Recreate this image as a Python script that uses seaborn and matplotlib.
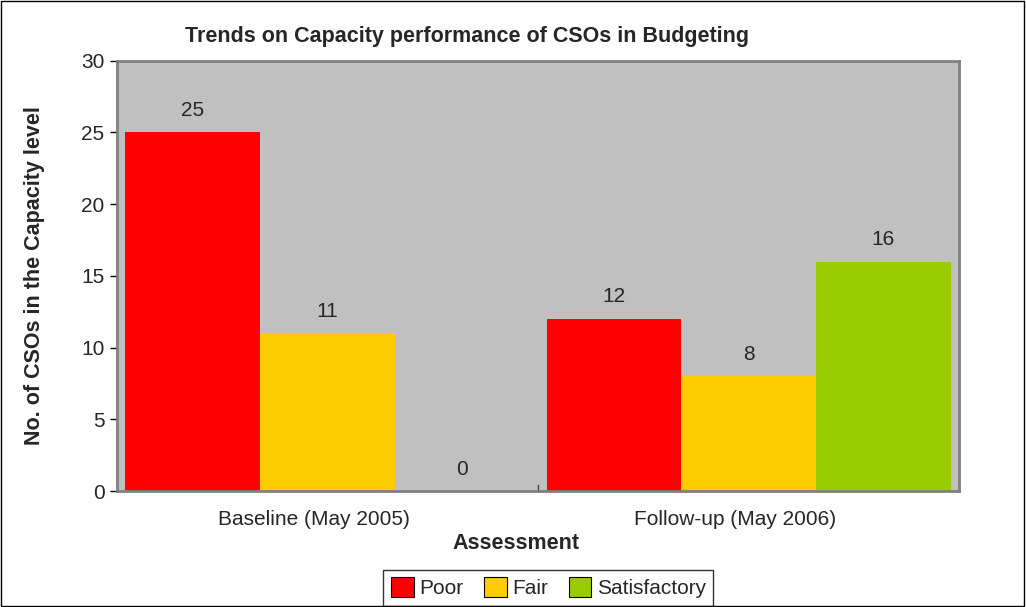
import numpy as np
import pandas as pd
import seaborn as sns
import matplotlib.pyplot as plt
import matplotlib.transforms as mtransforms
from matplotlib.patches import Rectangle

# data
assessments = ["Baseline (May 2005)", "Follow-up (May 2006)"]
levels = ["Poor", "Fair", "Satisfactory"]
poor = [25, 12]
fair = [11, 8]
satisfactory = [0, 16]
colors = ["#FF0000", "#FFCC00", "#99CC00"]

df = pd.DataFrame({
    "Assessment": assessments * 3,
    "Level": ["Poor"] * 2 + ["Fair"] * 2 + ["Satisfactory"] * 2,
    "Count": poor + fair + satisfactory,
})

sns.set_style("white")
plt.rcParams['font.family'] = ['Liberation Sans', 'DejaVu Sans']

fig = plt.figure(figsize=(10.26, 6.07), dpi=100)
ax = fig.add_axes([0.114, 0.191, 0.821, 0.709])
ax.set_facecolor("#C0C0C0")

sns.barplot(data=df, x="Assessment", y="Count", hue="Level", order=assessments,
            hue_order=levels, palette=colors, width=0.96, saturation=1,
            linewidth=0, ax=ax)

for cont in ax.containers:
    ax.bar_label(cont, fmt="%d", padding=9, fontsize=15)

ax.set_ylim(0, 30)
ax.set_xlim(-0.5, 1.5)
ax.set_yticks(range(0, 31, 5))
ax.tick_params(axis="y", labelsize=15, left=True, length=5, width=1, color="black", pad=4)
ax.tick_params(axis="x", labelsize=15, bottom=False, pad=10)
ax.set_xticks([0, 1])
# labels sit a little left of the category centre, like the original
shift = mtransforms.ScaledTranslation(-14 / 100, 0, fig.dpi_scale_trans)
for lab in ax.get_xticklabels():
    lab.set_transform(lab.get_transform() + shift)
# category separators on the x axis
for xv in [0.5, 1.5]:
    ax.plot([xv, xv], [0, 0.4], color="#404040", lw=1, clip_on=False)

for s in ax.spines.values():
    s.set_color("#808080")
    s.set_linewidth(2)

ax.set_xlabel("Assessment", fontsize=15.5, fontweight="bold", labelpad=3)
ax.xaxis.label.set_x(0.474)
ax.set_ylabel("No. of CSOs in the Capacity level", fontsize=15.5, fontweight="bold", labelpad=26)
fig.text(0.455, 0.94, "Trends on Capacity performance of CSOs in Budgeting",
         ha="center", va="center", fontsize=15.5, fontweight="bold")

handles, labels = ax.get_legend_handles_labels()
for h in handles:
    h.set_edgecolor("black")
    h.set_linewidth(0.8)
ax.legend(handles, labels, loc="center", bbox_to_anchor=(0.512, -0.225),
          ncol=3, frameon=True, fancybox=False, edgecolor="black",
          fontsize=15, handlelength=1.1, handleheight=1.1, handletextpad=0.25,
          columnspacing=1.0, borderpad=0.35, borderaxespad=0)

# outer chart border
fig.patches.append(Rectangle((0.001, 0.001), 0.997, 0.997, transform=fig.transFigure,
                             fill=False, edgecolor="black", lw=1))

plt.savefig("out.png", dpi=100)
